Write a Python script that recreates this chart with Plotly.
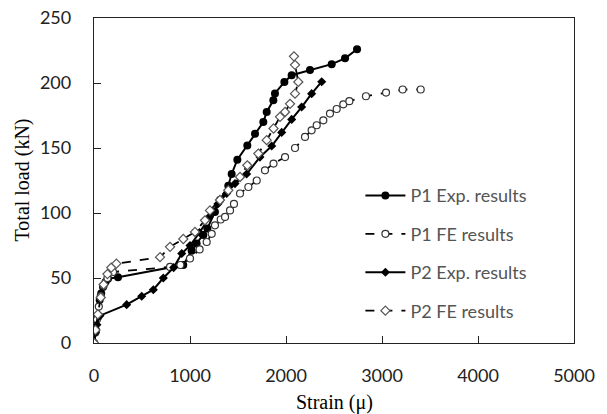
import plotly.graph_objects as go

p1_exp_x = [0, 20, 42, 59, 75, 94, 120, 146, 250, 930, 1017, 1069, 1139, 1181, 1260, 1312, 1399, 1434, 1493, 1597, 1677, 1764, 1799, 1868, 1885, 1983, 2059, 2250, 2476, 2615, 2740]
p1_exp_y = [0, 10, 20, 33, 38, 43, 47, 49.5, 50.5, 60, 71, 76.5, 83, 88, 100.8, 110, 121, 130, 141, 152, 161, 170, 177.7, 186.7, 192, 200.8, 206, 210, 214.5, 219, 226]

p1_fe_x = [0, 15, 30, 50, 70, 100, 140, 198, 792, 900, 1000, 1100, 1174, 1226, 1260, 1320, 1365, 1417, 1458, 1521, 1608, 1695, 1781, 1870, 1990, 2094, 2198, 2267, 2320, 2389, 2458, 2528, 2597, 2660, 2833, 3042, 3215, 3403]
p1_fe_y = [0, 8, 18, 28, 36, 44, 50, 54.6, 58.5, 60, 65, 72, 77.7, 84, 90.5, 95, 97, 102, 107, 115, 120, 125, 132.8, 138, 143, 150, 158.5, 163.6, 167.5, 171.3, 176.5, 180, 183.6, 186, 189.8, 192.6, 195, 195]

p2_exp_x = [0, 15, 30, 62, 340, 497, 618, 722, 830, 914, 1000, 1100, 1200, 1290, 1382, 1469, 1590, 1729, 1851, 1955, 2059, 2163, 2267, 2372]
p2_exp_y = [0, 8, 14, 21, 29.5, 36, 41, 50, 58, 68.8, 75, 85, 97, 107, 115, 122.6, 130, 143, 151.5, 162, 172, 181.5, 191.8, 201]

p2_fe_x = [0, 15, 40, 70, 100, 140, 180, 233, 688, 792, 930, 1052, 1156, 1208, 1312, 1399, 1521, 1597, 1712, 1799, 1870, 1938, 1990, 2042, 2094, 2128, 2094, 2083]
p2_fe_y = [0, 10, 22, 35, 45, 53, 58, 61, 66, 74, 80, 85.4, 94.4, 102, 110, 117.5, 127.7, 136.7, 145.7, 156, 165, 174, 177.7, 184, 191.8, 200.8, 214, 220.5]

x_ticks = [0, 1000, 2000, 3000, 4000, 5000]
y_ticks = [0, 50, 100, 150, 200, 250]

fig = go.Figure()
fig.add_trace(go.Scatter(x=p1_exp_x, y=p1_exp_y, mode="lines+markers", name="P1 Exp. results",
                         legendgroup="a",
                         line=dict(color="black", width=2),
                         marker=dict(symbol="circle", size=8, color="black")))
fig.add_trace(go.Scatter(x=p1_fe_x, y=p1_fe_y, mode="lines+markers", name="P1 FE results",
                         legendgroup="b",
                         line=dict(color="black", width=1.8, dash="dash"),
                         marker=dict(symbol="circle", size=7, color="white",
                                     line=dict(color="#333333", width=1.2))))
fig.add_trace(go.Scatter(x=p2_exp_x, y=p2_exp_y, mode="lines+markers", name="P2 Exp. results",
                         legendgroup="c",
                         line=dict(color="black", width=2),
                         marker=dict(symbol="diamond", size=7, color="black")))
fig.add_trace(go.Scatter(x=p2_fe_x, y=p2_fe_y, mode="lines+markers", name="P2 FE results",
                         legendgroup="d",
                         line=dict(color="black", width=1.8, dash="dash"),
                         marker=dict(symbol="diamond", size=7, color="white",
                                     line=dict(color="#555555", width=1.2))))

axis_common = dict(showline=True, mirror=True, linecolor="#222222", linewidth=1.3,
                   showgrid=False, zeroline=False, ticks="inside", ticklen=7,
                   tickcolor="#222222", tickwidth=1.3, automargin=False,
                   tickfont=dict(family="Lato, Open Sans, sans-serif", size=18, color="#222222"))

title_font = dict(family="Liberation Serif, Times New Roman, serif", size=20, color="black")

fig.update_layout(
    width=607, height=414,
    margin=dict(l=94, r=33, t=18, b=71),
    paper_bgcolor="white", plot_bgcolor="white",
    xaxis=dict(range=[0, 5000], tickvals=x_ticks, ticklabelstandoff=16, **axis_common),
    yaxis=dict(range=[0, 250], tickvals=y_ticks, ticklabelstandoff=18, **axis_common),
    showlegend=True,
    legend=dict(x=0.555, y=0.51, xanchor="left", yanchor="top",
                font=dict(family="Lato, Open Sans, sans-serif", size=18, color="#555555"),
                bgcolor="rgba(0,0,0,0)", tracegroupgap=12, itemwidth=40),
    annotations=[
        dict(text="Strain (μ)", xref="paper", yref="paper", x=0.5, y=0, yshift=-59,
             xanchor="center", yanchor="middle", showarrow=False, font=title_font),
        dict(text="Total load (kN)", xref="paper", yref="paper", x=0, y=0.5, xshift=-72,
             xanchor="center", yanchor="middle", showarrow=False, textangle=-90, font=title_font),
    ],
)

fig.write_html("out.html")
